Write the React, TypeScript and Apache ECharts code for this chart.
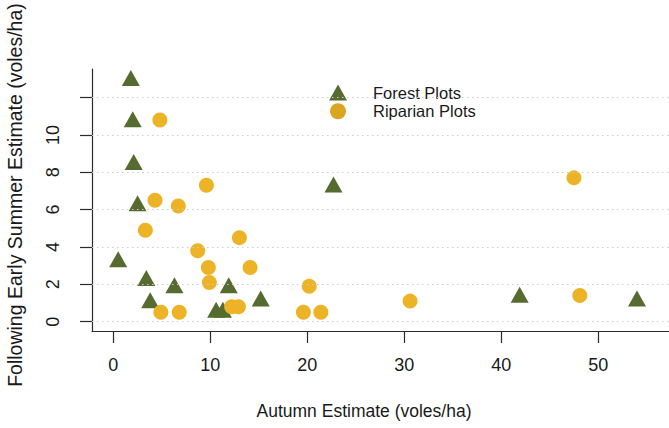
import React, { useEffect, useRef } from "react";
import * as echarts from "echarts";

// Vole density estimates: autumn vs. following early summer (voles/ha)
const forestAutumn = [1.8, 2.0, 2.1, 2.5, 0.5, 3.4, 3.8, 6.3, 11.9, 10.6, 11.3, 15.2, 22.7, 41.9, 54.0];
const forestSummer = [12.9, 10.7, 8.4, 6.2, 3.2, 2.2, 1.0, 1.8, 1.8, 0.5, 0.5, 1.1, 7.2, 1.3, 1.1];

const riparianAutumn = [4.8, 9.6, 4.3, 6.7, 3.3, 13.0, 8.7, 9.8, 14.1, 9.9, 4.9, 6.8, 12.2, 12.9, 20.2, 19.6, 21.4, 30.6, 47.5, 48.1];
const riparianSummer = [10.8, 7.3, 6.5, 6.2, 4.9, 4.5, 3.8, 2.9, 2.9, 2.1, 0.5, 0.5, 0.8, 0.8, 1.9, 0.5, 0.5, 1.1, 7.7, 1.4];

const xTicks = [0, 10, 20, 30, 40, 50];
const yTicks = [0, 2, 4, 6, 8, 10, 12];
const yLabelTicks = [0, 2, 4, 6, 8, 10];

const seriesNames = ["Forest Plots", "Riparian Plots"];
const xTitle = "Autumn Estimate (voles/ha)";
const yTitle = "Following Early Summer Estimate (voles/ha)";

const FONT = "'Liberation Sans', Arial, Helvetica, sans-serif";
const INK = "#1a1a1a";
const AXIS = "#2b2b2b";
const GREEN = "#556B2F";
const GOLD = "#EDB327";
const GOLD_KEY = "#DAA520";

const toPairs = (xs: number[], ys: number[]) => xs.map((x, i) => [x, ys[i]]);

export default function App() {
  const ref = useRef<HTMLDivElement>(null);

  useEffect(() => {
    if (!ref.current) return;
    const chart = echarts.init(ref.current, undefined, { renderer: "svg" });

    const axisCommon = {
      axisLine: { show: true, onZero: false, lineStyle: { color: AXIS, width: 1.2 } },
      axisTick: { show: true, inside: false, length: 12, lineStyle: { color: AXIS, width: 1.2 } },
      splitLine: { show: false },
    };

    chart.setOption({
      animation: false,
      backgroundColor: "#ffffff",
      grid: { left: 92, right: 0, top: 69, bottom: 97, containLabel: false },
      xAxis: {
        type: "value",
        min: -2.2,
        max: 57.3,
        ...axisCommon,
        axisTick: { ...axisCommon.axisTick, customValues: xTicks },
        axisLabel: {
          customValues: xTicks,
          margin: 25,
          fontSize: 18,
          fontFamily: FONT,
          color: INK,
        },
      },
      yAxis: {
        type: "value",
        min: -0.5,
        max: 13.53,
        ...axisCommon,
        axisTick: { ...axisCommon.axisTick, customValues: yTicks },
        axisLabel: {
          customValues: yLabelTicks,
          rotate: 90,
          margin: 30,
          fontSize: 18,
          fontFamily: FONT,
          color: INK,
        },
      },
      legend: {
        orient: "vertical",
        left: 324,
        top: 79,
        itemWidth: 18,
        itemHeight: 16,
        itemGap: 1.8,
        selectedMode: false,
        textStyle: { fontFamily: FONT, fontSize: 16.5, color: INK, lineHeight: 16, padding: [0, 0, 0, 21] },
        data: [
          { name: seriesNames[0], icon: "triangle", itemStyle: { color: GREEN } },
          { name: seriesNames[1], icon: "circle", itemStyle: { color: GOLD_KEY } },
        ],
      },
      graphic: [
        {
          type: "text",
          x: 364,
          y: 411,
          style: { text: xTitle, fontSize: 17.5, fontFamily: FONT, fill: INK, align: "center", verticalAlign: "middle" },
        },
        {
          type: "text",
          x: 15,
          y: 195,
          rotation: Math.PI / 2,
          style: { text: yTitle, fontSize: 19.5, fontFamily: FONT, fill: INK, align: "center", verticalAlign: "middle" },
        },
      ],
      series: [
        {
          name: "gridlines",
          type: "line",
          data: [],
          z: 1,
          silent: true,
          markLine: {
            silent: true,
            symbol: "none",
            label: { show: false },
            lineStyle: { color: "#cccccc", width: 1, type: [1.5, 3.5] },
            data: yTicks.map((v) => ({ yAxis: v })),
          },
        },
        {
          name: seriesNames[0],
          type: "scatter",
          z: 3,
          symbol: "triangle",
          symbolSize: [18, 16],
          symbolOffset: [0, -2.7],
          itemStyle: { color: GREEN, opacity: 1 },
          data: toPairs(forestAutumn, forestSummer),
        },
        {
          name: seriesNames[1],
          type: "scatter",
          z: 4,
          symbol: "circle",
          symbolSize: 15,
          itemStyle: { color: GOLD, opacity: 1 },
          data: toPairs(riparianAutumn, riparianSummer),
        },
      ],
    });

    return () => chart.dispose();
  }, []);

  return (
    <div
      ref={ref}
      style={{ position: "fixed", left: 0, top: 0, width: 669, height: 428, background: "#fff" }}
    />
  );
}
